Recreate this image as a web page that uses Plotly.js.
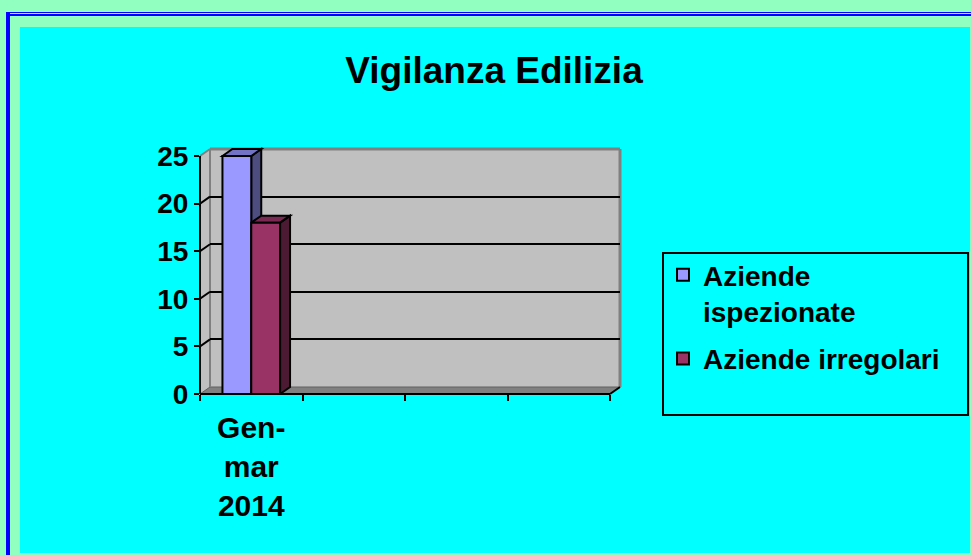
<!DOCTYPE html>
<html>
<head>
<meta charset="utf-8">
<script src="https://cdn.plot.ly/plotly-3.0.1.min.js"></script>
<style>html,body{margin:0;padding:0;background:#90FFC0;}#chart{width:971px;height:555px;}</style>
</head>
<body>
<div id="chart"></div>
<script>
// ---- data ----
const categories = ["Gen-<br>mar<br>2014", "", "", ""];
const aziendeIspezionate = [25, null, null, null];
const aziendeIrregolari = [18, null, null, null];
const seriesNames = ["Aziende<br>ispezionate", "Aziende irregolari"];
const yTicks = [0, 5, 10, 15, 20, 25];
const chartTitle = "Vigilanza Edilizia";

// ---- styles / geometry ----
const W = 971, H = 555;
const px = x => x / W;
const py = y => 1 - y / H;
const FONT = "Liberation Sans, Arial, sans-serif";
const FRONT_L = 200, FRONT_R = 610, FRONT_Y0 = 394, UNIT = 9.52; // px per unit
const DXP = 10, DYP = 7; // depth offset in px
const YMAX_FRONT = 27;
const DX = DXP / ((FRONT_R - FRONT_L) / 4);   // depth in x data units
const DY = DYP / UNIT;                         // depth in y data units
const BARGAP = 0.438;
const BAR_W = (1 - BARGAP) / 2;
const seriesColors = [
  {front: "#9999FF", top: "#7373C6", side: "#4D4D80"},
  {front: "#993366", top: "#7A2952", side: "#4D1A33"}
];
const idx = categories.map((c, i) => i);

const traces = [
  {type: "scatter", x: [], y: [], xaxis: "x", yaxis: "y", showlegend: false, hoverinfo: "skip"}
];
[aziendeIspezionate, aziendeIrregolari].forEach((vals, k) => {
  traces.push({
    type: "bar", x: idx, y: vals, name: seriesNames[k], legendgroup: "g" + k, xaxis: "x2", yaxis: "y2",
    marker: {color: seriesColors[k].front, line: {color: "#000", width: 2}}
  });
});

const shapes = [];
const P = (pts) => "M" + pts.map(p => px(p[0]) + "," + py(p[1])).join("L") + "Z";
// background panels
shapes.push({type: "rect", xref: "paper", yref: "paper", x0: px(20), x1: px(970), y0: py(553), y1: py(27), fillcolor: "#00FFFF", line: {width: 0}, layer: "below"});
shapes.push({type: "rect", xref: "paper", yref: "paper", x0: px(6), x1: px(10), y0: py(555), y1: py(12), fillcolor: "#0000FF", line: {width: 0}, layer: "below"});
shapes.push({type: "rect", xref: "paper", yref: "paper", x0: px(6), x1: px(971), y0: py(13), y1: py(12), fillcolor: "#0000FF", line: {width: 0}, layer: "below"});
shapes.push({type: "rect", xref: "paper", yref: "paper", x0: px(6), x1: px(971), y0: py(16), y1: py(14), fillcolor: "#0000FF", line: {width: 0}, layer: "below"});
// walls
const topY = FRONT_Y0 - 25 * UNIT;
shapes.push({type: "path", xref: "paper", yref: "paper", layer: "below", fillcolor: "#C0C0C0", line: {width: 0},
  path: P([[FRONT_L, topY], [FRONT_L + DXP, topY - DYP], [FRONT_R + DXP, topY - DYP], [FRONT_R + DXP, FRONT_Y0 - DYP], [FRONT_R, FRONT_Y0], [FRONT_L, FRONT_Y0]])});
shapes.push({type: "path", xref: "paper", yref: "paper", layer: "below", fillcolor: "#808080", line: {color: "#606060", width: 1},
  path: P([[FRONT_L, FRONT_Y0], [FRONT_L + DXP, FRONT_Y0 - DYP], [FRONT_R + DXP, FRONT_Y0 - DYP], [FRONT_R, FRONT_Y0]])});
const edge = (x0, y0, x1, y1, c, w, layer) => shapes.push({type: "line", xref: "paper", yref: "paper", x0: px(x0), y0: py(y0), x1: px(x1), y1: py(y1), line: {color: c, width: w}, layer: layer || "below"});
edge(FRONT_L + DXP, topY - DYP, FRONT_L + DXP, FRONT_Y0 - DYP, "#808080", 2);
edge(FRONT_L, topY, FRONT_L + DXP, topY - DYP, "#808080", 2);
edge(FRONT_L + DXP, topY - DYP, FRONT_R + DXP, topY - DYP, "#808080", 3);
edge(FRONT_R + DXP, topY - DYP, FRONT_R + DXP, FRONT_Y0 - DYP, "#808080", 3);
// side-wall gridlines
yTicks.filter(v => v > 0 && v < 25).forEach(v => {
  shapes.push({type: "line", xref: "x2", yref: "y2", x0: -0.5, y0: v, x1: -0.5 + DX, y1: v + DY, line: {color: "#000", width: 2}, layer: "below"});
});
// 3D faces of bars
[aziendeIspezionate, aziendeIrregolari].forEach((vals, k) => {
  vals.forEach((v, i) => {
    if (v == null) return;
    const l = i - BAR_W + k * BAR_W, r = l + BAR_W;
    const pth = pts => "M" + pts.map(p => p[0] + "," + p[1]).join("L") + "Z";
    shapes.push({type: "path", xref: "x2", yref: "y2", layer: "below", fillcolor: seriesColors[k].side, line: {color: "#000", width: 2},
      path: pth([[r, 0], [r, v], [r + DX, v + DY], [r + DX, DY]])});
    shapes.push({type: "path", xref: "x2", yref: "y2", layer: "below", fillcolor: seriesColors[k].top, line: {color: "#000", width: 2},
      path: pth([[l, v], [l + DX, v + DY], [r + DX, v + DY], [r, v]])});
  });
});
// front axis lines
edge(FRONT_L, topY, FRONT_L, FRONT_Y0, "#000", 2, "above");
edge(FRONT_L, FRONT_Y0, FRONT_R, FRONT_Y0, "#000", 2, "above");
edge(FRONT_R, FRONT_Y0, FRONT_R + DXP, FRONT_Y0 - DYP, "#000", 2, "above");
// legend box
shapes.push({type: "rect", xref: "paper", yref: "paper", x0: px(663), x1: px(968), y0: py(415), y1: py(253), line: {color: "#000", width: 2}, fillcolor: "rgba(0,0,0,0)", layer: "above"});

const layout = {
  width: W, height: H,
  margin: {l: 0, r: 0, t: 0, b: 0, pad: 0},
  paper_bgcolor: "#90FFC0",
  plot_bgcolor: "rgba(0,0,0,0)",
  font: {family: FONT, size: 26, color: "#000", weight: "bold"},
  title: {text: chartTitle, x: px(494), xanchor: "center", xref: "paper", y: py(70), yref: "paper", yanchor: "middle",
    font: {family: FONT, size: 37, color: "#000", weight: "bold"}},
  barmode: "group", bargap: BARGAP, bargroupgap: 0,
  showlegend: true,
  legend: {x: px(663), y: py(250), xanchor: "left", yanchor: "top", bgcolor: "rgba(0,0,0,0)", borderwidth: 0,
    valign: "top", font: {family: FONT, size: 28, color: "#000", weight: "bold"}, tracegroupgap: 8},
  xaxis: {domain: [px(FRONT_L + DXP), px(FRONT_R + DXP)], range: [-0.5, 3.5], anchor: "y", showgrid: false, zeroline: false,
    showline: false, showticklabels: false, ticks: "", fixedrange: true},
  yaxis: {domain: [py(FRONT_Y0 - DYP), py(topY - DYP)], range: [0, 25], anchor: "x", tickmode: "array",
    tickvals: yTicks.filter(v => v > 0 && v < 25), showgrid: true, gridcolor: "#000", gridwidth: 2, zeroline: false,
    showline: false, showticklabels: false, ticks: "", fixedrange: true},
  xaxis2: {domain: [px(FRONT_L), px(FRONT_R)], range: [-0.5, 3.5], anchor: "y2", showgrid: false, zeroline: false, showline: false,
    tickmode: "array", tickvals: idx, ticktext: categories, ticks: "", ticklabelstandoff: 13,
    tickfont: {family: FONT, size: 30, color: "#000", weight: "bold"},
    minor: {tickmode: "array", tickvals: [-0.5, 0.5, 1.5, 2.5, 3.5], ticks: "outside", ticklen: 6, tickwidth: 2, tickcolor: "#000", showgrid: false},
    fixedrange: true},
  yaxis2: {domain: [py(FRONT_Y0), py(FRONT_Y0 - YMAX_FRONT * UNIT)], range: [0, YMAX_FRONT], anchor: "x2", showgrid: false,
    zeroline: false, showline: false, tickmode: "array", tickvals: yTicks, ticks: "outside", ticklen: 5, tickwidth: 2, tickcolor: "#000",
    tickfont: {family: FONT, size: 28, color: "#000", weight: "bold"}, fixedrange: true},
  shapes: shapes
};

Plotly.newPlot("chart", traces, layout, {displayModeBar: false, staticPlot: true});
</script>
</body>
</html>
